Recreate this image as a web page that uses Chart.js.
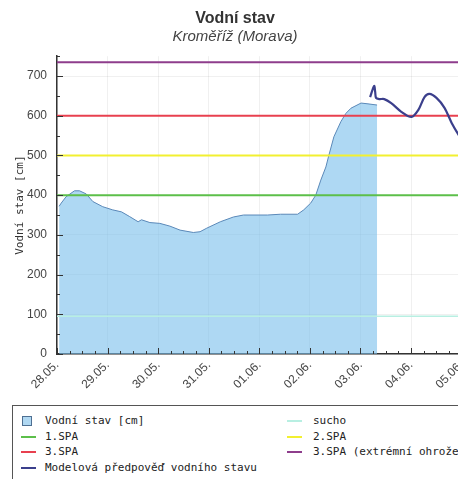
<!DOCTYPE html>
<html><head><meta charset="utf-8">
<script src="https://cdn.jsdelivr.net/npm/chart.js@4/dist/chart.umd.min.js"></script>
<style>
html,body{margin:0;padding:0;background:#fff;overflow:hidden;width:458px;height:479px;}
#wrap{position:relative;width:470px;height:479px;}
#c{position:absolute;left:0;top:0;}
#legend{position:absolute;left:12px;top:405px;width:520px;height:90px;border:1px solid #555;box-sizing:border-box;font:11px "DejaVu Sans Mono",monospace;color:#222;}
.item{position:absolute;white-space:nowrap;height:14px;line-height:14px;}
.sym{position:absolute;}
</style></head>
<body><div id="wrap"><canvas id="c" width="470" height="400"></canvas><div id="legend"></div></div>
<script>
const dayLabels = ['28.05.','29.05.','30.05.','31.05.','01.06.','02.06.','03.06.','04.06.','05.06.'];
const obsHours = [1.0,2.0,4.3,8.3,10.7,13.9,17.0,21.7,26.4,30.6,34.5,38.5,40.1,44.1,48.8,53.6,58.4,64.7,67.9,71.1,77.5,83.7,88.5,99.9,106.1,114.2,117.1,120.4,122.8,125.2,127.6,129.0,131.4,134.7,137.1,139.5,144.3,147.6,151.9];
const obsLevels = [372,380,396,411,411,403,384,371,363,358,346,333,338,331,329,322,312,306,308,317,333,345,350,350,352,352,363,380,400,438,471,500,547,585,606,619,632,630,627];
const fcHours = [148.6,150.5,151.0,151.4,152.9,155.3,158.6,163.4,168.2,171.5,174.4,176.7,180.1,183.9,187.3,190.6,195.8];
const fcLevels = [647,675,660,645,642,642,632,610,597,615,647,655,645,620,582,552,510];
const thresholdNames = ['sucho','1.SPA','2.SPA','3.SPA','3.SPA (extrémní ohrožení)'];
const thresholdLevels = [95,400,500,600,735];
const thresholdColors = ['#b8efe2','#5cbf4a','#f2f030','#e8404f','#8e3d8c'];
const X_MAX = 196, Y_MAX = 750;

const pts = (xs, ys) => xs.map((x,i)=>({x, y: ys[i]}));
const thr = i => ({label: thresholdNames[i], data: pts([0,X_MAX],[thresholdLevels[i],thresholdLevels[i]]),
  borderColor: thresholdColors[i], borderWidth: i===0?1.5:2, pointRadius:0, fill:false, order:5, kind:'line'});

const datasets = [
  {label:'Vodní stav [cm]', data: pts(obsHours, obsLevels), borderColor:'#5a88b8', borderWidth:1,
   backgroundColor:'rgba(120,190,235,0.6)', fill:'origin', pointRadius:0, tension:0, order:10, kind:'box'},
  thr(0), thr(1), thr(2), thr(3), thr(4),
  {label:'Modelová předpověď vodního stavu', data: pts(fcHours, fcLevels), borderColor:'#3b3f8c', borderWidth:2.2,
   pointRadius:0, fill:false, tension:0.3, order:1, kind:'line'}
];

const innerTicks = {
  id:'innerTicks',
  afterDraw(chart){
    const {ctx, scales:{x,y}, chartArea:a} = chart;
    ctx.save(); ctx.strokeStyle='#333'; ctx.lineWidth=1; ctx.beginPath();
    for(let h=0; h<=X_MAX; h+=6){ const px=Math.round(x.getPixelForValue(h))+0.5; const len=h%24===0?6:3; ctx.moveTo(px,a.bottom); ctx.lineTo(px,a.bottom-len);}
    for(let v=0; v<=Y_MAX; v+=50){ const py=Math.round(y.getPixelForValue(v))+0.5; const len=v%100===0?6:3; ctx.moveTo(a.left,py); ctx.lineTo(a.left+len,py);}
    ctx.stroke(); ctx.restore();
  }
};

const chart = new Chart(document.getElementById('c'), {
  type:'line',
  data:{datasets},
  options:{
    responsive:false, animation:false, devicePixelRatio:1,
    layout:{padding:{left:0,right:0,top:0,bottom:0}},
    plugins:{
      legend:{display:false}, tooltip:{enabled:false},
      title:{display:true, text:'Vodní stav', color:'#333', font:{family:'Liberation Sans, Arial', size:16, weight:'bold'}, padding:{top:9,bottom:0}},
      subtitle:{display:true, text:'Kroměříž (Morava)', color:'#444', font:{family:'Liberation Sans, Arial', size:15, style:'italic'}, padding:{top:0,bottom:10}}
    },
    scales:{
      x:{type:'linear', min:0, max:X_MAX,
        afterFit(s){ s.height = 46; s.paddingRight = 0; s.paddingLeft = 0; },
        border:{display:true, color:'#333', width:1.5},
        grid:{display:true, drawTicks:false, color:'rgba(0,0,0,0.06)', tickBorderDash:[2,3]},
        ticks:{stepSize:24, includeBounds:false, autoSkip:false, maxRotation:45, minRotation:45, padding:4, color:'#444',
          font:{family:'Liberation Sans, Arial', size:12},
          callback:v=> dayLabels[v/24] ?? ''}
      },
      y:{type:'linear', min:0, max:Y_MAX,
        afterFit(s){ s.width = 57; },
        border:{display:true, color:'#333', width:1.5},
        grid:{display:true, drawTicks:false, color:'rgba(0,0,0,0.06)'},
        ticks:{stepSize:100, includeBounds:false, padding:10, color:'#444', font:{family:'Liberation Sans, Arial', size:12}},
        title:{display:true, text:'Vodní stav [cm]', color:'#333', font:{family:'DejaVu Sans Mono', size:11}, padding:{top:14,bottom:0}}
      }
    }
  },
  plugins:[innerTicks]
});

// HTML legend built from datasets
const leg = document.getElementById('legend');
chart.data.datasets.forEach((ds,i)=>{
  const col=i%2, row=Math.floor(i/2);
  const top = 8 + row*15.7;
  const it = document.createElement('div');
  it.className='item';
  it.style.top = top+'px';
  it.style.left = (col===0? 32 : 300)+'px';
  it.textContent = ds.label;
  leg.appendChild(it);
  const s = document.createElement('div');
  s.className='sym';
  if(ds.kind==='box'){
    s.style.left='9px'; s.style.top=(top+2)+'px'; s.style.width='8px'; s.style.height='8px';
    s.style.background='#b0d8f2'; s.style.border='1px solid #4e6f92';
  } else {
    s.style.left=(col===0?8:274)+'px'; s.style.top=(top+6)+'px'; s.style.width='15px'; s.style.height='2px';
    s.style.background=ds.borderColor;
  }
  leg.appendChild(s);
});
</script></body></html>
